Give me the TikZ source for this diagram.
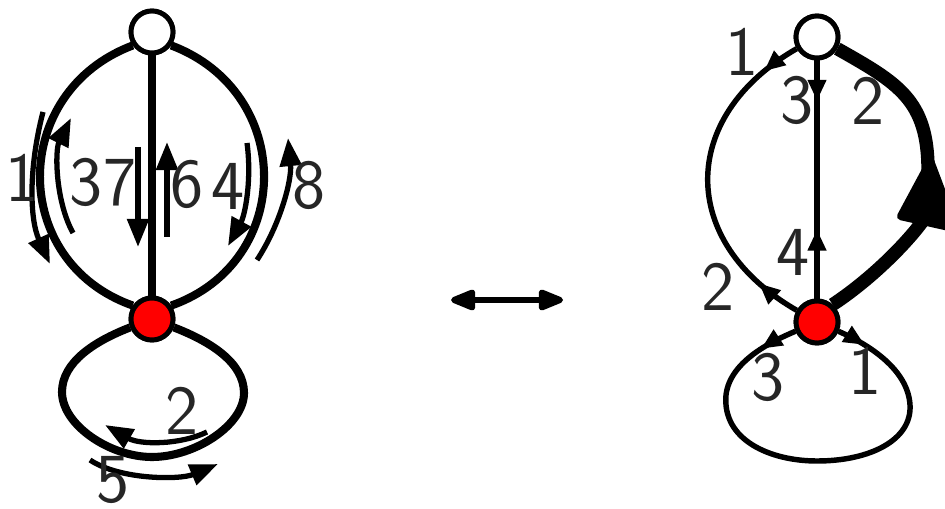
\documentclass[tikz,border=0pt]{standalone}
\usetikzlibrary{arrows.meta,decorations.markings}
\begin{document}
\begin{tikzpicture}[x=0.02cm,y=-0.02cm,
  vtx/.style={circle,draw,line width=2.8pt,minimum size=0.84cm,inner sep=0pt},
  white vtx/.style={vtx,fill=white},
  red vtx/.style={vtx,fill=red},
  edge/.style={line width=4.6pt},
  walk/.style={line width=3pt,-{Triangle[length=16pt,width=12pt]}},
  lbl/.style={text=black!85,font=\fontsize{40}{40}\sffamily,inner sep=0pt},
  redge/.style={line width=3.1pt},
  heavy/.style={line width=7.6pt},
  bighead/.style={fill=black,rounded corners=3pt},
  halfedges/.style n args={2}{postaction={decorate},decoration={markings,
      mark=at position #1 with {\arrow{Triangle[length=12pt,width=10pt]}},
      mark=at position #2 with {\arrowreversed{Triangle[length=12pt,width=10pt]}}}},
  swap/.style={line width=3.4pt,{Triangle[length=17pt,width=12.5pt,round]}-{Triangle[length=17pt,width=12.5pt,round]}}
]
\useasboundingbox (0,0) rectangle (945,509);

% ---------- left graph ----------
\node[white vtx] (T) at (152,32) {};
\node[red vtx]   (R) at (152,319) {};

\draw[edge] (T) -- (R);
\draw[edge] (T.215) .. controls (9,92) and (9,262) .. (R.145);
\draw[edge] (T.325) .. controls (295,92) and (295,262) .. (R.35);
\draw[edge] (R) .. controls (95,341) and (62,362) .. (62,392)
                .. controls (62,425) and (110,457) .. (152,457)
                .. controls (195,457) and (244,425) .. (244,393)
                .. controls (244,362) and (209,341) .. (R);
\node[white vtx] at (T) {};
\node[red vtx] at (R) {};

% walk around the faces
\draw[walk] (43,112) .. controls (28,170) and (30,220) .. (50,264);
\draw[walk] (73,233) .. controls (55,200) and (55,150) .. (71,118);
\draw[walk] (138,147) -- (138,247);
\draw[walk] (167,237) -- (167,142);
\draw[walk] (247,143) .. controls (252,180) and (245,215) .. (228,246);
\draw[walk] (257,260) .. controls (280,225) and (292,180) .. (288,138);
\draw[walk] (207,432) .. controls (180,445) and (140,445) .. (105,425);
\draw[walk] (90,460) .. controls (120,480) and (180,480) .. (218,464);

\node[lbl] (l1) at (22,178) {1};
\node[lbl] (l37) at (103,182) {37};
\node[lbl] (l6) at (187,184) {6};
\node[lbl] (l4) at (228,186) {4};
\node[lbl] (l8) at (309,185) {8};
\node[lbl] (l2) at (182,411) {2};
\node[lbl] (l5) at (113,480) {5};

% ---------- correspondence ----------
\coordinate (sl) at (451,300);
\coordinate (sr) at (563,300);
\draw[swap] (sl) -- (sr);

% ---------- right graph ----------
\node[white vtx] (T2) at (817,37) {};
\node[red vtx]   (R2) at (817,322) {};

\draw[redge,halfedges={0.12}{0.86}] (T2) .. controls (678,117) and (678,242) .. (R2);
\draw[redge,halfedges={0.17}{0.71}] (T2) -- (R2);
\draw[heavy] (T2.330) .. controls (898,83) and (928,100) .. (928,170)
                      .. controls (928,195) and (926,210) .. (922,222)
                      .. controls (905,245) and (870,280) .. (R2.48);
\fill[bighead] (931,152) -- (895,219) -- (962,234) -- cycle;
\draw[redge,halfedges={0.085}{0.935}] (R2) .. controls (775,340) and (730,360) .. (726,395)
                .. controls (722,440) and (770,461) .. (817,461)
                .. controls (870,461) and (912,440) .. (910,405)
                .. controls (908,370) and (870,345) .. (R2);
\node[white vtx] at (T2) {};
\node[red vtx] at (R2) {};

\node[lbl] (r1) at (742,52) {1};
\node[lbl] (r3) at (797,100) {3};
\node[lbl] (r2) at (868,101) {2};
\node[lbl] (r4) at (793,252) {4};
\node[lbl] (r2b) at (718,287) {2};
\node[lbl] (r3b) at (768,377) {3};
\node[lbl] (r1b) at (865,371) {1};
\end{tikzpicture}
\end{document}
